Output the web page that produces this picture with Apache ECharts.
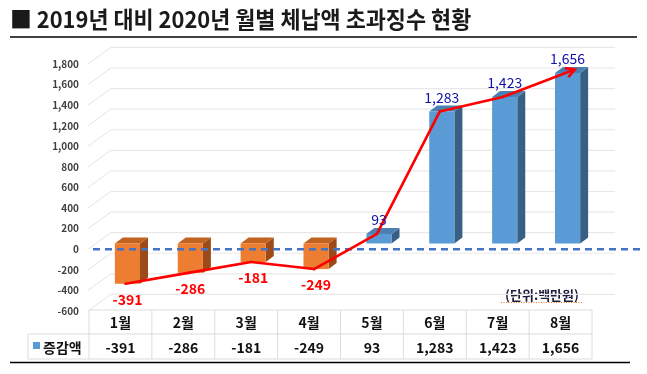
<!DOCTYPE html>
<html><head><meta charset="utf-8">
<script src="https://cdn.jsdelivr.net/npm/echarts@6/dist/echarts.min.js"></script>
<style>html,body{margin:0;padding:0;background:#fff}#c{width:647px;height:374px}</style>
</head><body><div id="c"></div>
<script>
// ---- data ----
const titleText = '■ 2019년 대비 2020년 월별 체납액 초과징수 현황';
const months = ['1월','2월','3월','4월','5월','6월','7월','8월'];
const values = [-391, -286, -181, -249, 93, 1283, 1423, 1656];
const yTicks = [-600,-400,-200,0,200,400,600,800,1000,1200,1400,1600,1800];
const seriesName = '증감액';
const unitText = '(단위:백만원)';

// ---- layout / style ----
const FONT = '"Noto Sans CJK KR", "Noto Sans", sans-serif';
const GL = 89, GR = 55, GT = 64, GB = 63;
const BAR_DX = 7, BAR_DY = -5.8, DEP_X = 8, DEP_Y = -6;
const fmt = v => v.toLocaleString('en-US');

const chart = echarts.init(document.getElementById('c'), null, {renderer: 'canvas'});

function barItem(params, api) {
  const i = api.value(0), v = api.value(1);
  const c0 = api.coord([i, 0]), c1 = api.coord([i, v]);
  const w = api.size([1, 0])[0] * 0.4;
  const cx = c0[0] + BAR_DX;
  const yA = Math.min(c0[1], c1[1]) + BAR_DY, yB = Math.max(c0[1], c1[1]) + BAR_DY;
  const x0 = cx - w / 2, x1 = cx + w / 2;
  const pos = v >= 0;
  const front = pos ? '#5B9BD5' : '#ED7D31';
  const top = pos ? '#4A80B2' : '#C2621F';
  const side = pos ? '#385F84' : '#9C4A17';
  return {type: 'group', children: [
    {type: 'polygon', shape: {points: [[x1, yA], [x1 + DEP_X, yA + DEP_Y], [x1 + DEP_X, yB + DEP_Y], [x1, yB]]}, style: {fill: side}},
    {type: 'polygon', shape: {points: [[x0, yA], [x0 + DEP_X, yA + DEP_Y], [x1 + DEP_X, yA + DEP_Y], [x1, yA]]}, style: {fill: top}},
    {type: 'rect', shape: {x: x0, y: yA, width: w, height: yB - yA}, style: {fill: front}}
  ]};
}

function pt(api, i, v) {
  const c = api.coord([i, v]);
  return [c[0] + BAR_DX - 2, c[1] + BAR_DY];
}

function lineItem(params, api) {
  const i = api.value(0), v = api.value(1), pv = api.value(2);
  const p = pt(api, i, v);
  const children = [];
  if (i > 0) {
    const q = pt(api, i - 1, pv);
    children.push({type: 'line', shape: {x1: q[0], y1: q[1], x2: p[0], y2: p[1]},
      style: {stroke: '#FF0000', lineWidth: 2.6, lineCap: 'round'}});
    if (i === values.length - 1) {
      const ang = Math.atan2(p[1] - q[1], p[0] - q[0]);
      const tip = [p[0] + 10 * Math.cos(ang), p[1] + 10 * Math.sin(ang)];
      children.push({type: 'line', shape: {x1: p[0], y1: p[1], x2: tip[0], y2: tip[1]},
        style: {stroke: '#FF0000', lineWidth: 2.6}});
      const L = 10, a = 0.5;
      children.push({type: 'polyline', shape: {points: [
        [tip[0] - L * Math.cos(ang - a), tip[1] - L * Math.sin(ang - a)], tip,
        [tip[0] - L * Math.cos(ang + a), tip[1] - L * Math.sin(ang + a)]]},
        style: {stroke: '#FF0000', lineWidth: 2.6, fill: null, lineJoin: 'miter'}});
    }
  }
  return {type: 'group', children};
}

function labelItem(params, api) {
  const i = api.value(0), v = api.value(1);
  const c0 = api.coord([i, 0]), c1 = api.coord([i, v]);
  const cx = c0[0] + BAR_DX;
  const neg = v < 0;
  const y = neg ? c1[1] + BAR_DY + 15.5 : c1[1] + BAR_DY - 14;
  return {type: 'text', x: cx, y: y, style: {text: fmt(v), fill: neg ? '#FF0000' : '#1010A8',
    font: (neg ? 'bold ' : '') + '14px ' + FONT, align: 'center', verticalAlign: 'middle'}};
}

function gridItem(params, api) {
  const v = api.value(0);
  const y = api.coord([0, v])[1];
  const yb = y - 16.6;
  return {type: 'group', children: [
    {type: 'line', shape: {x1: 88, y1: y, x2: 110.7, y2: yb}, style: {stroke: '#E4E4E4', lineWidth: 1}},
    {type: 'line', shape: {x1: 110.7, y1: yb, x2: 615, y2: yb}, style: {stroke: '#E8E8E8', lineWidth: 1.2}}
  ]};
}

function zeroItem(params, api) {
  const y = api.coord([0, api.value(0)])[1];
  return {type: 'line', shape: {x1: 93, y1: y, x2: 642, y2: y},
    style: {stroke: '#4472C4', lineWidth: 2.5, lineDash: [7, 5]}};
}

// table graphics
const colW = (647 - GL - GR) / months.length;
const tTop = 310, tMid = 334, tBot = 359, tLeft = 28;
const tableEls = [];
const border = {stroke: '#DCDCDC', lineWidth: 1};
tableEls.push({type: 'line', shape: {x1: GL, y1: tTop, x2: 647 - GR, y2: tTop}, style: border});
tableEls.push({type: 'line', shape: {x1: tLeft, y1: tMid, x2: 647 - GR, y2: tMid}, style: border});
tableEls.push({type: 'line', shape: {x1: tLeft, y1: tBot, x2: 647 - GR, y2: tBot}, style: border});
tableEls.push({type: 'line', shape: {x1: tLeft, y1: tMid, x2: tLeft, y2: tBot}, style: border});
for (let k = 0; k <= months.length; k++) {
  const x = GL + k * colW;
  tableEls.push({type: 'line', shape: {x1: x, y1: tTop, x2: x, y2: tBot}, style: border});
}
months.forEach((m, k) => {
  const cx = GL + (k + 0.5) * colW;
  tableEls.push({type: 'text', x: cx, y: (tTop + tMid) / 2 + 1, style: {text: m, font: 'bold 14px ' + FONT, fill: '#111', align: 'center', verticalAlign: 'middle'}});
  tableEls.push({type: 'text', x: cx, y: (tMid + tBot) / 2 + 1, style: {text: fmt(values[k]), font: 'bold 14px ' + FONT, fill: '#111', align: 'center', verticalAlign: 'middle'}});
});
tableEls.push({type: 'rect', shape: {x: 33, y: 342, width: 7, height: 7}, style: {fill: '#5B9BD5'}});
tableEls.push({type: 'text', x: 43, y: (tMid + tBot) / 2 + 1, style: {text: seriesName, font: 'bold 14px ' + FONT, fill: '#111', align: 'left', verticalAlign: 'middle'}});

const option = {
  backgroundColor: '#fff',
  animation: false,
  grid: {left: GL, right: GR, top: GT, bottom: GB, containLabel: false},
  xAxis: {type: 'category', data: months, show: false},
  yAxis: {type: 'value', min: -600, max: 1800, interval: 200,
    axisLine: {show: false}, axisTick: {show: false}, splitLine: {show: false},
    axisLabel: {margin: 10, fontSize: 10, fontWeight: 'bold', color: '#404040', fontFamily: FONT, formatter: fmt}},
  graphic: [
    {type: 'text', x: 10, y: 19, scaleX: 0.95, style: {text: titleText, font: 'bold 23px ' + FONT, fill: '#1A1A1A', verticalAlign: 'middle'}},
    {type: 'line', shape: {x1: 10, y1: 37, x2: 637, y2: 37}, style: {stroke: '#000', lineWidth: 1.6}},
    {type: 'line', shape: {x1: 10, y1: 362.5, x2: 630, y2: 362.5}, style: {stroke: '#000', lineWidth: 1.6}},
    {type: 'text', x: 542, y: 295, style: {text: unitText, font: 'bold 13px ' + FONT, fill: '#1E1E3C', align: 'center', verticalAlign: 'middle'}},
    {type: 'line', shape: {x1: 501, y1: 302.5, x2: 583, y2: 302.5}, style: {stroke: '#E87722', lineWidth: 1, lineDash: [1, 1.5]}},
    ...tableEls
  ],
  series: [
    {type: 'custom', name: 'grid', silent: true, z: 1, renderItem: gridItem, data: yTicks.map(v => [v]), encode: {y: 0}},
    {type: 'custom', name: seriesName, z: 3, renderItem: barItem, data: values.map((v, i) => [i, v]), encode: {x: 0, y: 1}},
    {type: 'custom', name: 'zero', silent: true, z: 4, renderItem: zeroItem, data: [[0]], encode: {y: 0}},
    {type: 'custom', name: 'trend', z: 5, renderItem: lineItem, data: values.map((v, i) => [i, v, i > 0 ? values[i - 1] : v]), encode: {x: 0, y: 1}},
    {type: 'custom', name: 'labels', z: 6, renderItem: labelItem, data: values.map((v, i) => [i, v]), encode: {x: 0, y: 1}}
  ]
};
chart.setOption(option);
</script></body></html>
